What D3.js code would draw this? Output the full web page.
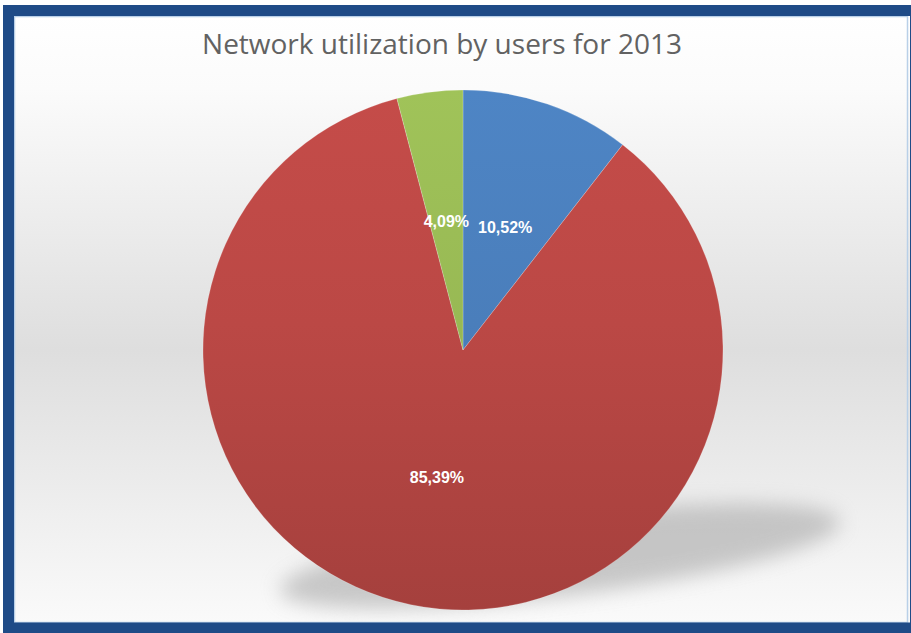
<!DOCTYPE html>
<html>
<head>
<meta charset="utf-8">
<script src="https://cdn.jsdelivr.net/npm/d3@7"></script>
<style>
  html, body { margin: 0; padding: 0; background: #ffffff; }
  svg { display: block; }
</style>
</head>
<body>
<svg id="chart" width="911" height="633"></svg>
<script>
// chart data
var title = "Network utilization by users for 2013";
var categories = ["Group 1", "Group 2", "Group 3"];
var shares = [10.52, 85.39, 4.09];
var shareLabels = ["10,52%", "85,39%", "4,09%"];
var sliceColors = ["#4a7ebb", "#bb4845", "#98b954"];

var svg = d3.select("#chart");
var defs = svg.append("defs");

// background gradient, white at top, grey in the middle
var bg = defs.append("linearGradient").attr("id", "bgGrad")
  .attr("x1", 0).attr("y1", 0).attr("x2", 0).attr("y2", 1);
bg.append("stop").attr("offset", "0%").attr("stop-color", "#ffffff");
bg.append("stop").attr("offset", "12%").attr("stop-color", "#fbfbfb");
bg.append("stop").attr("offset", "55%").attr("stop-color", "#dedede");
bg.append("stop").attr("offset", "100%").attr("stop-color", "#fafafa");

svg.append("rect")
  .attr("x", 14).attr("y", 16).attr("width", 900).attr("height", 607)
  .attr("fill", "url(#bgGrad)");

// blurred shadow under the pie
defs.append("filter").attr("id", "blur")
  .attr("x", "-20%").attr("y", "-60%").attr("width", "140%").attr("height", "220%")
  .append("feGaussianBlur").attr("stdDeviation", 10);

svg.append("ellipse")
  .attr("cx", 0).attr("cy", 0).attr("rx", 282).attr("ry", 40)
  .attr("transform", "translate(560,556) rotate(-7)")
  .attr("fill", "#a8a8a8")
  .attr("opacity", 0.6)
  .attr("filter", "url(#blur)");

// title
var titleText = svg.append("text")
  .attr("x", 442).attr("y", 54)
  .attr("text-anchor", "middle")
  .attr("font-family", "'Open Sans', sans-serif")
  .attr("font-size", 26)
  .attr("fill", "#626262")
  .text(title);
var tw = titleText.node().getComputedTextLength();
titleText.attr("font-size", 26 * 480 / tw);

// pie
var cx = 463, cy = 350, radius = 260;

var pie = d3.pie().sort(null).value(function(d){ return d; });
var arc = d3.arc().innerRadius(0).outerRadius(radius);
var arcs = pie(shares);

var colorScale = d3.scaleOrdinal().domain(categories).range(sliceColors);

// vertical shading per slice, lighter on top, darker at the bottom
categories.forEach(function(c, i){
  var base = d3.color(colorScale(c));
  var g = defs.append("linearGradient").attr("id", "slice" + i)
    .attr("gradientUnits", "userSpaceOnUse")
    .attr("x1", 0).attr("y1", -radius).attr("x2", 0).attr("y2", radius);
  g.append("stop").attr("offset", "0%").attr("stop-color", base.brighter(0.15));
  g.append("stop").attr("offset", "45%").attr("stop-color", base);
  g.append("stop").attr("offset", "100%").attr("stop-color", base.darker(0.35));
});

var pieG = svg.append("g").attr("transform", "translate(" + cx + "," + cy + ")");

pieG.selectAll("path.slice").data(arcs).enter().append("path")
  .attr("class", "slice")
  .attr("d", arc)
  .attr("fill", function(d, i){ return "url(#slice" + i + ")"; })
  .attr("stroke", "rgba(255,255,255,0.25)")
  .attr("stroke-width", 0.8);

pieG.selectAll("text.label").data(arcs).enter().append("text")
  .attr("class", "label")
  .attr("transform", function(d){ var c = arc.centroid(d); return "translate(" + c[0] + "," + c[1] + ")"; })
  .attr("text-anchor", "middle")
  .attr("dy", "0.35em")
  .attr("font-family", "'Liberation Sans', Arial, sans-serif")
  .attr("font-weight", "bold")
  .attr("font-size", 16)
  .attr("fill", "#ffffff")
  .text(function(d, i){ return shareLabels[i]; });

// frame
svg.append("rect")
  .attr("x", 14.5).attr("y", 16.5).attr("width", 893).attr("height", 606)
  .attr("fill", "none").attr("stroke", "#b9d0e8").attr("stroke-width", 1.5);
svg.append("rect")
  .attr("x", 8.5).attr("y", 10.5).attr("width", 907).attr("height", 617.5)
  .attr("fill", "none").attr("stroke", "#1f4b87").attr("stroke-width", 11);
</script>
</body>
</html>
